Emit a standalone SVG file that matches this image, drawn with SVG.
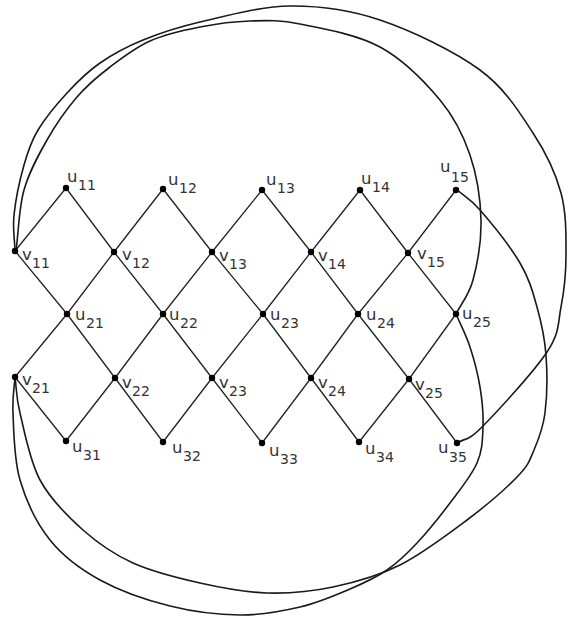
<svg xmlns="http://www.w3.org/2000/svg" width="568" height="618" viewBox="0 0 568 618">
<style>
.e{stroke:#222;stroke-width:1.3;fill:none}
.a{stroke:#1a1a1a;stroke-width:1.6;fill:none}
.d{fill:#000}
text{font-family:"DejaVu Sans","Liberation Sans",sans-serif;font-size:16.5px;fill:#333}
.s{font-size:14px}
</style>
<rect width="568" height="618" fill="#fff"/>
<g id="connectors">
<path class="e" d="M15,251L66,188M15,251L67,314
M114,252L163,189M114,252L163,314M114,252L66,188M114,252L67,314
M212,252L262,190M212,252L263,314M212,252L163,189M212,252L163,314
M311,252L360,190M311,252L358,314M311,252L262,190M311,252L263,314
M408,253L456,190M408,253L456,314M408,253L360,190M408,253L358,314
M15,377L67,314M15,377L66,441
M115,378L163,314M115,378L163,442M115,378L67,314M115,378L66,441
M212,378L263,314M212,378L262,443M212,378L163,314M212,378L163,442
M311,378L358,314M311,378L359,442M311,378L263,314M311,378L262,443
M409,379L456,314M409,379L457,443M409,379L358,314M409,379L359,442"/>
<path id="arc-v11-u25" class="a" d="M16,251 C18.7,230.7 18.8,208.5 24,190 S38.2,155.5 47,140 S66.5,109.2 77,97 S97.8,76.3 110,67 S135,47.7 150,41 S183.3,30.3 200,27 S233.3,21.5 250,21 S278.3,19.7 300,24 S356.7,34.3 380,47 S425,82 440,100 S463.2,135 470,155 S480.5,199.2 481,220 S477.2,264.3 473,280 S461.7,302.7 456,314"/>
<path id="arc-v11-u35" class="a" d="M15,251 C14.7,239 12.5,229.3 14,215 S20,179.2 24,165 S30.8,142 38,130 S56.7,104.2 67,93 S87.3,71.8 100,63 S126.3,46.8 143,40 S175.5,27.7 200,22 S260,6.3 290,6 S348.3,9.3 380,20 S454.5,51.2 480,70 S519.5,112.5 533,133 S555.5,172.7 561,193 S566,236 566,255 S564.2,290.8 561,307 S560.2,332 547,352 S497,411.8 482,427 S465.3,437.7 457,443"/>
<path id="arc-u15-v21" class="a" d="M456,189 C464,196 469.3,197.7 480,210 S510.5,246.8 520,263 S532.7,291.7 537,307 S544.7,337.3 546,355 S547,397.2 545,413 S538.5,439.5 534,450 S529.2,464.3 518,476 S486.7,505.2 467,520 S422.3,553.8 400,565 S355.2,582.3 333,587 S289.2,593.7 267,593 S222.3,588 200,583 S152.5,571.8 133,563 S98.5,543.8 83,530 S50.5,499.5 40,480 S24.2,430.2 20,413 S16.7,389 15,377"/>
<path id="arc-u25-v21" class="a" d="M456,314 C460.7,325 466,334.8 470,347 S477.8,373.7 480,387 S483.5,414.3 483,427 S482.5,450.3 477,463 S460,489.7 450,503 S427.5,531.8 417,543 S398.2,562.3 387,570 S364.5,582.8 350,589 S318.3,602.7 300,607 S261.7,615.2 240,615 S193.3,611.8 170,606 S120,591 100,580 S63.3,556.7 50,540 S26.2,501.2 20,480 S13.8,430.2 13,413 S14.3,389 15,377"/>
</g>
<g id="u11"><circle class="d" cx="66" cy="188" r="3.2"/><text x="67" y="182">u<tspan class="s" x="78" y="190">11</tspan></text></g>
<g id="u12"><circle class="d" cx="163" cy="189" r="3.2"/><text x="168" y="185">u<tspan class="s" x="179" y="193">12</tspan></text></g>
<g id="u13"><circle class="d" cx="262" cy="190" r="3.2"/><text x="266" y="185">u<tspan class="s" x="277" y="193">13</tspan></text></g>
<g id="u14"><circle class="d" cx="360" cy="190" r="3.2"/><text x="361" y="184">u<tspan class="s" x="372" y="192">14</tspan></text></g>
<g id="u15"><circle class="d" cx="456" cy="190" r="3.2"/><text x="440" y="172">u<tspan class="s" x="451" y="182">15</tspan></text></g>
<g id="v11"><circle class="d" cx="15" cy="251" r="3.2"/><text x="22" y="260">v<tspan class="s" x="32" y="268">11</tspan></text></g>
<g id="v12"><circle class="d" cx="114" cy="252" r="3.2"/><text x="122" y="260">v<tspan class="s" x="132" y="268">12</tspan></text></g>
<g id="v13"><circle class="d" cx="212" cy="252" r="3.2"/><text x="219" y="261">v<tspan class="s" x="229" y="269">13</tspan></text></g>
<g id="v14"><circle class="d" cx="311" cy="252" r="3.2"/><text x="318" y="261">v<tspan class="s" x="328" y="269">14</tspan></text></g>
<g id="v15"><circle class="d" cx="408" cy="253" r="3.2"/><text x="417" y="259">v<tspan class="s" x="427" y="267">15</tspan></text></g>
<g id="u21"><circle class="d" cx="67" cy="314" r="3.2"/><text x="75" y="320">u<tspan class="s" x="86" y="328">21</tspan></text></g>
<g id="u22"><circle class="d" cx="163" cy="314" r="3.2"/><text x="169" y="320">u<tspan class="s" x="180" y="328">22</tspan></text></g>
<g id="u23"><circle class="d" cx="263" cy="314" r="3.2"/><text x="270" y="320">u<tspan class="s" x="281" y="328">23</tspan></text></g>
<g id="u24"><circle class="d" cx="358" cy="314" r="3.2"/><text x="366" y="320">u<tspan class="s" x="377" y="328">24</tspan></text></g>
<g id="u25"><circle class="d" cx="456" cy="314" r="3.2"/><text x="462" y="319">u<tspan class="s" x="473" y="327">25</tspan></text></g>
<g id="v21"><circle class="d" cx="15" cy="377" r="3.2"/><text x="22" y="385">v<tspan class="s" x="32" y="393">21</tspan></text></g>
<g id="v22"><circle class="d" cx="115" cy="378" r="3.2"/><text x="122" y="388">v<tspan class="s" x="132" y="396">22</tspan></text></g>
<g id="v23"><circle class="d" cx="212" cy="378" r="3.2"/><text x="219" y="388">v<tspan class="s" x="229" y="396">23</tspan></text></g>
<g id="v24"><circle class="d" cx="311" cy="378" r="3.2"/><text x="318" y="388">v<tspan class="s" x="328" y="396">24</tspan></text></g>
<g id="v25"><circle class="d" cx="409" cy="379" r="3.2"/><text x="415" y="390">v<tspan class="s" x="425" y="398">25</tspan></text></g>
<g id="u31"><circle class="d" cx="66" cy="441" r="3.2"/><text x="72" y="452">u<tspan class="s" x="83" y="460">31</tspan></text></g>
<g id="u32"><circle class="d" cx="163" cy="442" r="3.2"/><text x="172" y="453">u<tspan class="s" x="183" y="461">32</tspan></text></g>
<g id="u33"><circle class="d" cx="262" cy="443" r="3.2"/><text x="269" y="456">u<tspan class="s" x="280" y="464">33</tspan></text></g>
<g id="u34"><circle class="d" cx="359" cy="442" r="3.2"/><text x="365" y="454">u<tspan class="s" x="376" y="462">34</tspan></text></g>
<g id="u35"><circle class="d" cx="457" cy="443" r="3.2"/><text x="438" y="453">u<tspan class="s" x="449" y="462">35</tspan></text></g>
</svg>
